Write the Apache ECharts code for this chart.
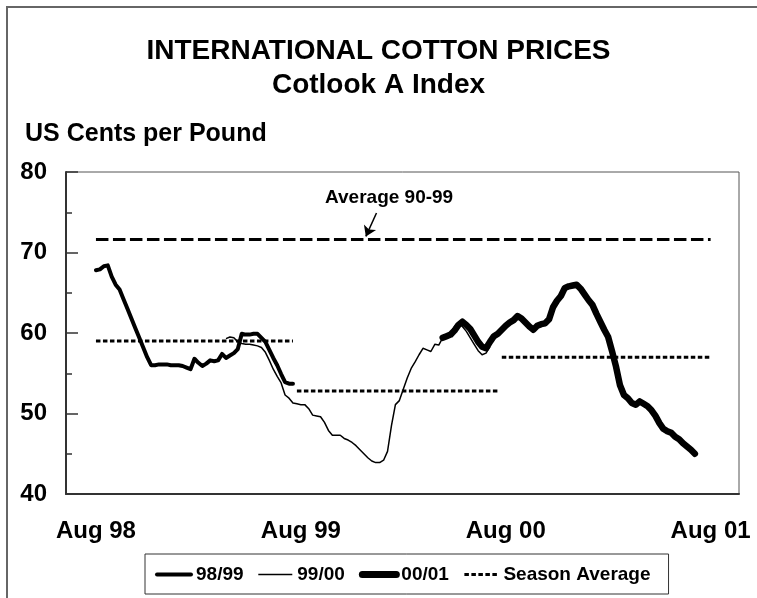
<!DOCTYPE html>
<html>
<head>
<meta charset="utf-8">
<script src="https://cdn.jsdelivr.net/npm/echarts@6/dist/echarts.min.js"></script>
<style>
  html, body { margin: 0; padding: 0; background: #fff; }
  #chart-container { width: 757px; height: 598px; }
</style>
</head>
<body>
<div id="chart-container"></div>
<script>
// weeks counted from the first week of Aug 98
const tickWeeks = [0, 52, 104, 156];
const tickLabels = ['Aug 98', 'Aug 99', 'Aug 00', 'Aug 01'];

// 98/99 season, starts week 0
const start9899 = 0;
const prices9899 = [67.8, 67.9, 68.3, 68.4, 67.0, 66.0, 65.4, 64.2, 63.0, 61.8,
  60.6, 59.4, 58.2, 57.0, 56.0, 56.0, 56.1, 56.1, 56.1, 56.0,
  56.0, 56.0, 55.9, 55.7, 55.5, 56.8, 56.3, 55.9, 56.2, 56.6,
  56.5, 56.6, 57.4, 56.9, 57.2, 57.5, 58.0, 59.9, 59.8, 59.8,
  59.9, 59.9, 59.4, 58.9, 57.9, 56.9, 56.0, 54.9, 53.9, 53.7, 53.7];

// 99/00 season, starts week 33
const start9900 = 33;
const prices9900 = [59.3, 59.5, 59.4, 58.9, 58.7, 58.6, 58.6, 58.5, 58.4, 58.2,
  57.6, 56.6, 55.5, 54.6, 53.8, 52.3, 51.9, 51.3, 51.2, 51.1,
  51.1, 50.6, 49.8, 49.7, 49.6, 48.9, 47.9, 47.3, 47.3, 47.3,
  46.9, 46.7, 46.4, 46.0, 45.5, 45.0, 44.5, 44.1, 43.9, 43.9,
  44.2, 45.3, 48.5, 51.1, 51.6, 53.0, 54.4, 55.6, 56.4, 57.3,
  58.1, 57.9, 57.7, 58.6, 58.5, 59.4, 59.6, 60.0, 60.8, 61.3,
  60.8, 60.2, 59.4, 58.6, 57.8, 57.3, 57.5, 58.3];

// 00/01 season, starts week 88
const start0001 = 88;
const prices0001 = [59.4, 59.6, 59.8, 60.3, 61.0, 61.4, 61.0, 60.5, 59.7, 58.9,
  58.3, 58.1, 58.9, 59.6, 59.9, 60.4, 60.9, 61.3, 61.6, 62.1,
  61.8, 61.3, 60.8, 60.4, 60.9, 61.1, 61.2, 61.7, 63.2, 64.0,
  64.6, 65.6, 65.8, 65.9, 66.0, 65.5, 64.8, 64.1, 63.5, 62.4,
  61.4, 60.4, 59.5, 57.7, 55.8, 53.5, 52.3, 51.9, 51.3, 51.1,
  51.5, 51.2, 50.9, 50.4, 49.7, 48.8, 48.1, 47.8, 47.6, 47.1,
  46.8, 46.3, 45.9, 45.5, 45.0];

// season averages and the 1990-99 average
const seasonAvg = [59.0, 52.8, 57.0];
const seasonFrom = [0, 51, 103];
const seasonTo = [50, 102, 156];
const average9099 = 71.6;

function toPairs(start, arr) {
  return arr.map(function (v, i) { return [start + i, v]; });
}

var FONT = '"Liberation Sans", Arial, sans-serif';

var dom = document.getElementById('chart-container');
var myChart = echarts.init(dom, null, { renderer: 'canvas' });

var seasonSeries = seasonAvg.map(function (v, i) {
  return {
    name: 'Season Average',
    type: 'line',
    symbol: 'none',
    silent: true,
    lineStyle: { color: '#000', width: 3, type: [4.5, 2.5] },
    itemStyle: { color: '#000' },
    data: [[seasonFrom[i], v], [seasonTo[i], v]]
  };
});

var titleStyle = { fontFamily: FONT, fontSize: 28, fontWeight: 'bold', color: '#000' };

var option = {
  animation: false,
  backgroundColor: '#fff',
  textStyle: { fontFamily: FONT },
  graphic: [{
    type: 'rect',
    shape: { x: 7, y: 7, width: 800, height: 700 },
    style: { fill: 'none', stroke: '#666', lineWidth: 2 },
    silent: true
  }],
  title: [
    { text: 'INTERNATIONAL COTTON PRICES', left: 'center', top: 32, textStyle: titleStyle },
    { text: 'Cotlook A Index', left: 'center', top: 66, textStyle: titleStyle },
    {
      text: 'US Cents per Pound',
      left: 20,
      top: 117,
      textStyle: { fontFamily: FONT, fontSize: 25, fontWeight: 'bold', color: '#000' }
    }
  ],
  grid: {
    left: 66, right: 18, top: 172, bottom: 104,
    show: true, borderColor: '#555', borderWidth: 1
  },
  legend: {
    left: 145,
    top: 554,
    padding: [11, 18, 10, 10],
    itemWidth: 34,
    itemHeight: 14,
    itemGap: 14,
    borderColor: '#333',
    borderWidth: 1,
    borderRadius: 0,
    itemStyle: { opacity: 0, borderWidth: 0 },
    textStyle: { fontFamily: FONT, fontSize: 19, fontWeight: 'bold', color: '#000' },
    data: [
      { name: '98/99', lineStyle: { width: 4 } },
      { name: '99/00', lineStyle: { width: 1.5 } },
      { name: '00/01', lineStyle: { width: 7 } },
      { name: 'Season Average', lineStyle: { width: 3, type: [4.5, 2.5] } }
    ]
  },
  xAxis: {
    type: 'value',
    min: -7.6,
    max: 163.2,
    splitLine: { show: false },
    axisLine: { show: true, onZero: false, lineStyle: { color: '#333', width: 2 } },
    axisTick: { show: false },
    axisLabel: {
      customValues: tickWeeks,
      margin: 25,
      fontSize: 24,
      fontWeight: 'bold',
      color: '#000',
      fontFamily: FONT,
      formatter: function (val) {
        var k = tickWeeks.indexOf(val);
        return k >= 0 ? tickLabels[k] : '';
      }
    }
  },
  yAxis: {
    type: 'value',
    min: 40,
    max: 80,
    interval: 10,
    splitLine: { show: false },
    axisLine: { show: true, onZero: false, lineStyle: { color: '#333', width: 2 } },
    axisTick: { show: true, inside: true, length: 12, lineStyle: { color: '#333', width: 1.5 } },
    minorTick: { show: true, splitNumber: 2, length: 6, lineStyle: { color: '#333', width: 1.5 } },
    axisLabel: { margin: 19, fontSize: 24, fontWeight: 'bold', color: '#000', fontFamily: FONT }
  },
  series: [
    {
      name: 'Average 90-99',
      type: 'line',
      symbol: 'none',
      silent: true,
      lineStyle: { color: '#000', width: 3, type: [12.5, 4.5] },
      data: [[seasonFrom[0], average9099], [seasonTo[2], average9099]],
      markPoint: {
        symbol: 'circle',
        symbolSize: 0,
        label: {
          show: true,
          position: 'inside',
          formatter: 'Average 90-99',
          fontFamily: FONT,
          fontSize: 19,
          fontWeight: 'bold',
          color: '#000'
        },
        data: [{ coord: [74.4, 76.8] }]
      },
      markLine: {
        silent: true,
        symbol: ['none', 'arrow'],
        symbolSize: 10,
        label: { show: false },
        lineStyle: { color: '#000', width: 1.5, type: 'solid' },
        data: [[{ coord: [71.2, 74.9] }, { coord: [68.5, 72.0] }]]
      }
    }
  ].concat(seasonSeries).concat([
    {
      name: '98/99',
      type: 'line',
      symbol: 'none',
      lineStyle: { color: '#000', width: 4, join: 'round', cap: 'round' },
      itemStyle: { color: '#000' },
      data: toPairs(start9899, prices9899)
    },
    {
      name: '99/00',
      type: 'line',
      symbol: 'none',
      lineStyle: { color: '#000', width: 1.5, join: 'round' },
      itemStyle: { color: '#000' },
      data: toPairs(start9900, prices9900)
    },
    {
      name: '00/01',
      type: 'line',
      symbol: 'none',
      lineStyle: { color: '#000', width: 6.5, join: 'round', cap: 'round' },
      itemStyle: { color: '#000' },
      data: toPairs(start0001, prices0001)
    }
  ])
};

if (option && typeof option === 'object') {
  myChart.setOption(option);
}
</script>
</body>
</html>
